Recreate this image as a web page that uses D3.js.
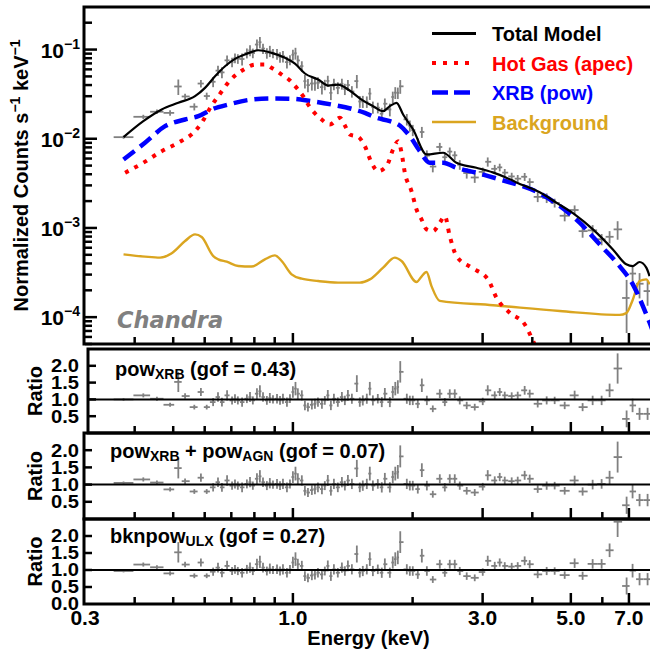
<!DOCTYPE html>
<html><head><meta charset="utf-8">
<script src="https://cdn.jsdelivr.net/npm/d3@7"></script>
<style>
body{margin:0;background:#fff}
text{font-family:"Liberation Sans",Arial,Helvetica,sans-serif;font-weight:bold}
</style>
</head><body><svg id="c" width="650" height="654"></svg>
<script>
// ---------------- DATA ----------------
const energy = [0.375,0.4205,0.455,0.491,0.515,0.5355,0.565,0.587,0.607,0.630,
0.648,0.663,0.683,0.703,0.715,0.727,0.745,0.766,0.780,0.793,
0.812,0.826,0.841,0.860,0.875,0.891,0.912,0.928,0.944,0.966,
0.983,1.000,1.015,1.029,1.053,1.072,1.091,1.116,1.136,1.156,
1.183,1.203,1.224,1.246,1.268,1.297,1.328,1.351,1.375,1.407,
1.448,1.473,1.499,1.534,1.561,1.589,1.635,1.673,1.703,1.753,
1.783,1.809,1.836,1.862,1.934,1.968,2.002,2.061,2.110,2.172,
2.248,2.341,2.410,2.480,2.553,2.628,2.736,2.866,3.002,3.090,
3.218,3.312,3.410,3.550,3.676,3.827,3.940,4.127,4.347,4.553,
4.825,5.111,5.353,5.673,5.976,6.258,6.556,6.906,7.149,7.444,7.798];

const counts = [0.01042,0.01762,0.02009,0.01950,0.03855,0.02979,0.02286,0.04159,0.03013,0.04355,
0.05807,0.05546,0.07568,0.07211,0.08035,0.07888,0.07834,0.0912,0.09796,0.0912,
0.1138,0.1208,0.1026,0.0912,0.0962,0.0906,0.0891,0.0822,0.0841,0.0723,
0.0765,0.0875,0.0909,0.0755,0.0652,0.0442,0.0399,0.0416,0.0417,0.0426,
0.0379,0.0404,0.0445,0.0327,0.0410,0.0373,0.0413,0.0361,0.0400,0.0339,
0.0443,0.0262,0.0262,0.0260,0.0321,0.0226,0.0223,0.0191,0.0247,0.0213,
0.0294,0.0329,0.0327,0.0387,0.0165,0.0140,0.0125,0.00881,0.0119,0.00647,
0.00488,0.00809,0.00621,0.00718,0.00652,0.00512,0.00413,0.00368,0.00425,0.00552,
0.00460,0.00478,0.00417,0.00378,0.00357,0.00375,0.00327,0.00223,0.00217,0.00191,
0.00137,0.00159,0.000921,0.000940,0.000747,0.000796,0.000964,0.000164,0.000308,0.000237,0.000196];

const ratioPow = [1.00,1.12,1.02,0.84,1.52,1.10,0.77,1.22,0.77,0.92,
1.07,0.92,1.12,0.97,1.02,0.97,0.92,1.02,1.07,0.97,
1.17,1.24,1.07,0.97,1.04,1.00,1.02,0.97,1.02,0.92,
1.02,1.22,1.32,1.17,1.12,0.82,0.77,0.84,0.87,0.92,
0.87,0.97,1.12,0.82,1.02,0.92,1.07,0.97,1.12,1.02,
1.47,0.92,0.97,1.02,1.32,0.97,1.02,0.92,1.17,0.92,
1.22,1.32,1.37,1.82,1.02,0.97,0.97,0.87,1.42,0.97,
0.72,1.17,0.92,1.17,1.17,0.97,0.82,0.77,0.94,1.27,
1.12,1.22,1.12,1.10,1.12,1.27,1.17,0.87,0.97,0.97,
0.82,1.12,0.77,0.97,0.97,1.27,1.92,0.42,0.82,0.57,0.57];

const ratioPowAgn = [1.05,1.15,1.06,0.86,1.48,1.10,0.80,1.20,0.80,0.92,
1.07,0.92,1.12,0.97,1.02,0.97,0.92,1.02,1.07,0.97,
1.17,1.24,1.07,0.97,1.04,1.00,1.02,0.97,1.02,0.92,
1.02,1.22,1.32,1.17,1.12,0.82,0.77,0.84,0.87,0.92,
0.87,0.97,1.12,0.82,1.02,0.92,1.07,0.97,1.12,1.02,
1.47,0.92,0.97,1.02,1.32,0.97,1.02,0.92,1.17,0.92,
1.22,1.32,1.37,1.82,1.02,0.97,0.97,0.87,1.42,0.97,
0.72,1.17,0.92,1.17,1.17,0.97,0.82,0.77,0.94,1.27,
1.12,1.22,1.12,1.10,1.12,1.27,1.17,0.87,0.97,0.97,
0.82,1.12,0.80,1.00,1.02,1.20,1.80,0.40,0.80,0.55,0.55];

const ratioBkn = [0.97,1.16,1.08,0.90,1.52,1.16,0.83,1.22,0.83,0.95,
1.07,0.92,1.12,0.97,1.02,0.97,0.92,1.02,1.07,0.97,
1.17,1.24,1.07,0.97,1.04,1.00,1.02,0.97,1.02,0.92,
1.02,1.22,1.32,1.17,1.12,0.82,0.77,0.84,0.87,0.92,
0.87,0.97,1.12,0.82,1.02,0.92,1.07,0.97,1.12,1.02,
1.47,0.92,0.97,1.02,1.32,0.97,1.02,0.92,1.17,0.92,
1.22,1.32,1.37,1.82,1.02,0.97,0.97,0.87,1.42,0.97,
0.72,1.17,0.92,1.17,1.17,0.97,0.82,0.77,0.94,1.27,
1.12,1.22,1.12,1.10,1.12,1.27,1.17,0.87,0.97,0.97,
0.85,1.20,0.83,1.18,1.18,1.58,2.42,0.53,0.98,0.73,0.73];

const ratioErr = [.04,.06,.06,.06,.30,.08,.07,.12,.07,.12,
.14,.13,.15,.12,.13,.12,.14,.13,.15,.12,
.16,.18,.14,.13,.15,.12,.14,.13,.15,.14,
.13,.17,.20,.16,.15,.14,.13,.14,.15,.14,
.15,.13,.16,.14,.15,.14,.15,.14,.16,.15,
.25,.14,.15,.15,.20,.15,.14,.15,.17,.15,
.18,.20,.20,.32,.15,.14,.14,.13,.20,.14,
.10,.13,.12,.13,.13,.12,.11,.10,.11,.15,
.12,.12,.11,.11,.11,.13,.12,.11,.12,.11,
.11,.14,.12,.14,.14,.20,.45,.25,.20,.18,.18];

const totalE = [0.375,0.4205,0.4678,0.515,0.5673,0.601,0.637,0.675,0.715,0.7575,0.818,0.884,0.955,1.012,1.072,1.158,1.227,1.299,1.377,1.488,1.591,1.686,1.753,1.822,1.893,2.006,2.168,2.386,2.578,2.894,3.181,3.443,3.648,4.175,4.598,5.111,5.682,6.379,6.893,7.161,7.444,7.740,7.888];
const totalModel = [0.01042,0.01574,0.0213,0.0253,0.0300,0.0372,0.0502,0.0650,0.0787,0.0879,0.0982,0.0918,0.0807,0.0697,0.0539,0.0461,0.0395,0.0405,0.0357,0.0275,0.0232,0.0204,0.0232,0.0253,0.0187,0.0127,0.00667,0.00697,0.00538,0.00473,0.00420,0.00366,0.00324,0.00251,0.00192,0.00142,0.000964,0.000575,0.000391,0.000374,0.000415,0.000359,0.000289];

const apecE = [0.3784,0.4205,0.4678,0.515,0.5673,0.5896,0.6247,0.6491,0.6946,0.7575,0.803,0.8503,0.892,0.937,0.983,1.022,1.061,1.092,1.181,1.239,1.313,1.351,1.391,1.459,1.517,1.577,1.638,1.720,1.786,1.839,1.876,1.912,1.987,2.046,2.106,2.168,2.252,2.341,2.410,2.480,2.578,2.812,3.095,3.249,3.509,3.827,4.017,4.298];
const apecModel = [0.00416,0.00538,0.00726,0.00902,0.01217,0.01510,0.0236,0.0300,0.0450,0.0608,0.0679,0.0679,0.0608,0.0525,0.0450,0.0372,0.0300,0.0242,0.01644,0.01445,0.01718,0.01409,0.01117,0.01052,0.00826,0.00538,0.00434,0.00493,0.00759,0.00940,0.00697,0.00416,0.00259,0.00161,0.00125,0.000964,0.000923,0.001146,0.00136,0.000811,0.000484,0.000359,0.000265,0.000166,0.000112,0.0000832,0.0000541,0.0000261];

const powE = [0.375,0.4246,0.4770,0.5355,0.5782,0.6247,0.688,0.787,0.884,0.9925,1.114,1.251,1.404,1.517,1.623,1.753,1.857,1.968,2.085,2.209,2.386,2.578,2.894,3.312,4.175,4.688,5.261,5.907,6.631,7.161,7.589,7.888,8.17];
const powModel = [0.00586,0.00902,0.01384,0.01644,0.0179,0.0213,0.0242,0.0275,0.0283,0.0281,0.0264,0.0242,0.0217,0.0195,0.01718,0.01574,0.01409,0.01069,0.00726,0.00538,0.00538,0.00473,0.00416,0.00350,0.00244,0.00176,0.001146,0.000655,0.000374,0.000233,0.000133,0.0000871,0.0000566];

const bkgE = [0.375,0.4246,0.4632,0.4957,0.5355,0.5673,0.5896,0.6306,0.6491,0.6816,0.729,0.787,0.8503,0.9010,0.937,0.9925,1.052,1.158,1.299,1.473,1.561,1.686,1.804,1.876,2.046,2.106,2.168,2.231,2.341,3.186,4.688,6.631,6.893,7.161,7.444,7.740,7.888];
const bkgModel = [0.000506,0.000477,0.000465,0.000520,0.000714,0.000847,0.000791,0.000484,0.000445,0.000419,0.000374,0.000369,0.000445,0.000493,0.000426,0.000302,0.000270,0.000254,0.000244,0.000244,0.000265,0.000359,0.000465,0.000426,0.000248,0.000285,0.000321,0.000223,0.000152,0.000136,0.000117,0.000106,0.000111,0.000158,0.000254,0.000265,0.000233];

const xTickLabels = ["0.3","1.0","3.0","5.0","7.0"];
const xTickValues = [0.3,1,3,5,7];
const xMinorValues = [0.4,0.5,0.6,0.7,0.8,0.9,2,4,6,8];
const ratioTicks = [0.5,1.0,1.5,2.0];
const legendLabels = ["Total Model","Hot Gas (apec)","XRB (pow)","Background"];

// ---------------- CHART ----------------
const svg = d3.select('#c');
svg.append('rect').attr('width',650).attr('height',654).attr('fill','#fff');
const defs = svg.append('defs');
const x = d3.scaleLog().domain([0.3,8]).range([85,652]);
const yTop = d3.scaleLog().domain([5e-5,0.3]).range([344,7]);
const GRAY = '#808080';
const n = energy.length;
const edges = energy.map((e,i)=>{
  const lo = i>0 ? Math.sqrt(energy[i-1]*e) : e*e/Math.sqrt(e*energy[1]);
  const hi = i<n-1 ? Math.sqrt(e*energy[i+1]) : e*e/Math.sqrt(energy[n-2]*e);
  return [lo,hi];
});

function clip(id,x0,y0,x1,y1){
  defs.append('clipPath').attr('id',id).append('rect')
    .attr('x',x0).attr('y',y0).attr('width',x1-x0).attr('height',y1-y0);
}
function crosses(g, vals, errs, ys){
  const idx = d3.range(n);
  g.selectAll('line.h').data(idx).join('line').attr('class','h')
    .attr('x1',i=>x(edges[i][0])).attr('x2',i=>x(edges[i][1]))
    .attr('y1',i=>ys(vals[i])).attr('y2',i=>ys(vals[i]))
    .attr('stroke',GRAY).attr('stroke-width',1.8);
  g.selectAll('line.v').data(idx).join('line').attr('class','v')
    .attr('x1',i=>x(energy[i])).attr('x2',i=>x(energy[i]))
    .attr('y1',i=>ys(Math.max(vals[i]-errs[i],1e-7))).attr('y2',i=>ys(vals[i]+errs[i]))
    .attr('stroke',GRAY).attr('stroke-width',1.8);
}

// ---- top panel ----
clip('clipTop',85,7,652,344);
const gTop = svg.append('g').attr('clip-path','url(#clipTop)');
const countErr = counts.map((c,i)=>c*ratioErr[i]/ratioPow[i]);
crosses(gTop.append('g'), counts, countErr, yTop);

const line = d3.line().x(d=>x(d[0])).y(d=>yTop(d[1])).curve(d3.curveMonotoneX);
const styles = [
  {E:bkgE, V:bkgModel, color:'#DAA520', w:2.4, dash:null},
  {E:powE, V:powModel, color:'#0000ff', w:4.5, dash:'14,7'},
  {E:apecE, V:apecModel, color:'#ff0000', w:4, dash:'4,6.5'},
  {E:totalE, V:totalModel, color:'#000', w:2.2, dash:null}
];
styles.forEach(s=>{
  gTop.append('path').datum(s.E.map((e,i)=>[e,s.V[i]])).attr('d',line)
    .attr('fill','none').attr('stroke',s.color).attr('stroke-width',s.w)
    .attr('stroke-dasharray',s.dash);
});

// Chandra label
svg.append('text').attr('x',117).attr('y',328).attr('fill',GRAY)
  .style('font-family','"DejaVu Sans",sans-serif').style('font-style','italic')
  .attr('font-size',22.5).text('Chandra');

// frame
svg.append('rect').attr('x',84).attr('y',7).attr('width',600).attr('height',337)
  .attr('fill','none').attr('stroke','#000').attr('stroke-width',3);

// top y ticks
const tg = svg.append('g').attr('stroke','#000').attr('stroke-width',2.5);
for(let k=-5;k<=0;k++){
  for(let m=1;m<=9;m++){
    const v = m*Math.pow(10,k);
    if(v<5e-5||v>0.3) continue;
    tg.append('line').attr('x1',85).attr('x2',85+(m===1?12:7))
      .attr('y1',yTop(v)).attr('y2',yTop(v));
  }
}
[-4,-3,-2,-1].forEach(k=>{
  const t = svg.append('text').attr('x',80).attr('y',yTop(Math.pow(10,k))+8)
    .attr('text-anchor','end').attr('font-size',21);
  t.append('tspan').text('10');
  t.append('tspan').attr('font-size',14).attr('dy',-9).text('\u2212'+(-k));
});
function xTicks(yb, x0){
  const g = svg.append('g').attr('stroke','#000').attr('stroke-width',2.5);
  xMinorValues.forEach(v=>{ if(x(v)>x0+2 && x(v)<650) g.append('line').attr('x1',x(v)).attr('x2',x(v)).attr('y1',yb).attr('y2',yb-7); });
  xTickValues.forEach(v=>{ if(x(v)>x0+2 && x(v)<650) g.append('line').attr('x1',x(v)).attr('x2',x(v)).attr('y1',yb).attr('y2',yb-11); });
}
xTicks(344, 84);

// y title
const yt = svg.append('text').attr('transform','translate(28,175.5) rotate(-90)')
  .attr('text-anchor','middle').attr('font-size',20);
yt.append('tspan').text('Normalized Counts s');
yt.append('tspan').attr('font-size',14).attr('dy',-8).text('\u22121');
yt.append('tspan').attr('font-size',20).attr('dy',8).text(' keV');
yt.append('tspan').attr('font-size',14).attr('dy',-8).text('\u22121');

// legend
const legColors = ['#000','#ff0000','#0000ff','#DAA520'];
const legStyles = [styles[3],styles[2],styles[1],styles[0]];
legendLabels.forEach((lab,i)=>{
  const by = 41 + i*29.5;
  svg.append('line').attr('x1',432).attr('x2',476).attr('y1',by-7.5).attr('y2',by-7.5)
    .attr('stroke',legColors[i]).attr('stroke-width',i===0?3:legStyles[i].w)
    .attr('stroke-dasharray', i===1?'4,7':(i===2?'16,6':null));
  svg.append('text').attr('x',492).attr('y',by).attr('font-size',20)
    .attr('fill',legColors[i]).text(lab);
});

// ---- ratio panels ----
const panels = [
  {top:349,bottom:433,left:88,ratio:ratioPow,base:'pow',sub:'XRB',rest:' (gof = 0.43)',tx:115,ty:376},
  {top:433,bottom:519,left:84,ratio:ratioPowAgn,base:'pow',sub:'XRB',mid:' + pow',sub2:'AGN',rest:' (gof = 0.07)',tx:110,ty:458},
  {top:519,bottom:604,left:84,ratio:ratioBkn,base:'bknpow',sub:'ULX',rest:' (gof = 0.27)',tx:110,ty:543}
];
panels.forEach((p,pi)=>{
  const yr = d3.scaleLinear().domain([0,2.5]).range([p.bottom,p.top]);
  clip('clipR'+pi,p.left+1,p.top+1,652,p.bottom-1);
  const g = svg.append('g').attr('clip-path','url(#clipR'+pi+')');
  crosses(g, p.ratio, ratioErr, yr);
  svg.append('line').attr('x1',p.left).attr('x2',650).attr('y1',yr(1)).attr('y2',yr(1))
    .attr('stroke','#000').attr('stroke-width',2);
  svg.append('rect').attr('x',p.left).attr('y',p.top).attr('width',650).attr('height',p.bottom-p.top)
    .attr('fill','none').attr('stroke','#000').attr('stroke-width',3);
  const tg2 = svg.append('g').attr('stroke','#000').attr('stroke-width',2.5);
  ratioTicks.forEach(v=>{
    tg2.append('line').attr('x1',p.left).attr('x2',p.left+8).attr('y1',yr(v)).attr('y2',yr(v));
  });
  xTicks(p.bottom, p.left);
  const labs = pi===2 ? [0].concat(ratioTicks) : ratioTicks;
  labs.forEach(v=>{
    svg.append('text').attr('x',79).attr('y',yr(v)+6.5).attr('text-anchor','end')
      .attr('font-size',18).attr('transform','translate(79,0) scale(1.12,1) translate(-79,0)')
      .text(v.toFixed(1));
  });
  svg.append('text').attr('transform','translate(42,'+((p.top+p.bottom)/2)+') rotate(-90)')
    .attr('text-anchor','middle').attr('font-size',20).text('Ratio');
  const t = svg.append('text').attr('x',p.tx).attr('y',p.ty).attr('font-size',20);
  t.append('tspan').text(p.base);
  t.append('tspan').attr('font-size',14).attr('dy',3).text(p.sub);
  if(p.mid){
    t.append('tspan').attr('font-size',20).attr('dy',-3).text(p.mid);
    t.append('tspan').attr('font-size',14).attr('dy',3).text(p.sub2);
  }
  t.append('tspan').attr('font-size',20).attr('dy',-3).text(p.rest);
});

// x tick labels & title
xTickValues.forEach((v,i)=>{
  svg.append('text').attr('x',x(v)).attr('y',625).attr('text-anchor','middle')
    .attr('font-size',21).text(xTickLabels[i]);
});
svg.append('text').attr('x',368.5).attr('y',645).attr('text-anchor','middle')
  .attr('font-size',20).text('Energy (keV)');
</script></body></html>
